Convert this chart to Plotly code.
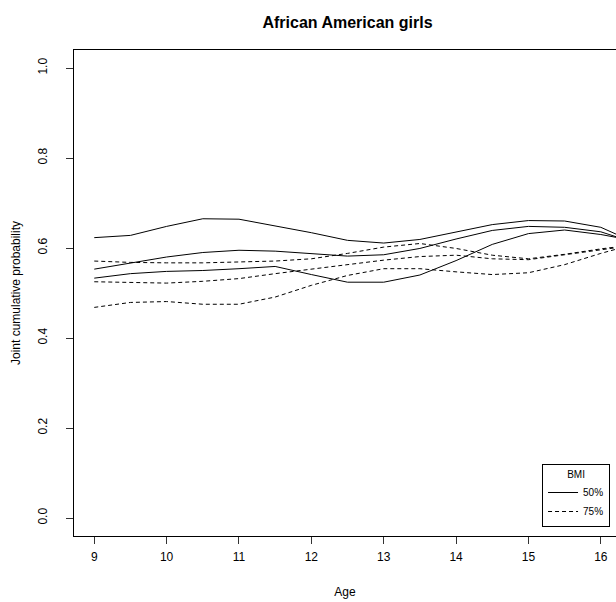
import plotly.graph_objects as go

ages = [9, 9.5, 10, 10.5, 11, 11.5, 12, 12.5, 13, 13.5, 14, 14.5, 15, 15.5, 16, 16.5]

bmi50_a = [0.623, 0.628, 0.648, 0.665, 0.664, 0.649, 0.634, 0.617, 0.611, 0.619, 0.636, 0.652, 0.661, 0.660, 0.646, 0.610]
bmi50_b = [0.553, 0.567, 0.580, 0.590, 0.595, 0.593, 0.587, 0.582, 0.585, 0.599, 0.620, 0.639, 0.648, 0.646, 0.636, 0.610]
bmi50_c = [0.533, 0.543, 0.548, 0.550, 0.554, 0.559, 0.541, 0.524, 0.524, 0.540, 0.572, 0.608, 0.632, 0.640, 0.630, 0.615]

bmi75_a = [0.571, 0.568, 0.567, 0.567, 0.569, 0.571, 0.576, 0.588, 0.602, 0.610, 0.599, 0.584, 0.576, 0.586, 0.598, 0.608]
bmi75_b = [0.525, 0.524, 0.522, 0.526, 0.532, 0.543, 0.553, 0.563, 0.573, 0.581, 0.584, 0.576, 0.574, 0.585, 0.597, 0.607]
bmi75_c = [0.468, 0.479, 0.481, 0.475, 0.475, 0.491, 0.517, 0.539, 0.554, 0.554, 0.547, 0.541, 0.545, 0.563, 0.588, 0.610]

x_ticks = [9, 10, 11, 12, 13, 14, 15, 16]
y_ticks = [0.0, 0.2, 0.4, 0.6, 0.8, 1.0]
y_tick_labels = ["0.0", "0.2", "0.4", "0.6", "0.8", "1.0"]

series = [
    ("50%", bmi50_a, "solid", True),
    ("50%", bmi50_b, "solid", False),
    ("50%", bmi50_c, "solid", False),
    ("75%", bmi75_a, "4px,3px", True),
    ("75%", bmi75_b, "4px,3px", False),
    ("75%", bmi75_c, "4px,3px", False),
]

fig = go.Figure()
for name, vals, dash, show in series:
    fig.add_trace(go.Scatter(
        x=ages, y=vals, mode="lines", name=name, legendgroup=name,
        showlegend=show, line=dict(color="black", width=1, dash=dash),
    ))

font = "Liberation Sans, Arial, Helvetica, sans-serif"
fig.update_layout(
    width=616, height=602,
    margin=dict(l=74, r=0, t=50, b=66),
    paper_bgcolor="white", plot_bgcolor="white",
    font=dict(family=font, size=12, color="black"),
    title=dict(text="<b>African American girls</b>", x=(74 + 621) / 2 / 616, xanchor="center",
               y=1 - 22 / 602, yanchor="middle", font=dict(size=16, family=font)),
    showlegend=True,
    legend=dict(
        x=0.989, y=0.0185, xanchor="right", yanchor="bottom",
        bordercolor="black", borderwidth=1, bgcolor="white",
        font=dict(size=10, family=font),
        title=dict(text="BMI", side="top center", font=dict(size=10)),
        itemwidth=30, tracegroupgap=0,
    ),
)
fig.update_xaxes(
    range=[8.72, 16.21], tickvals=x_ticks, ticktext=[str(t) for t in x_ticks],
    ticks="outside", ticklen=7, tickcolor="#333", showgrid=False, zeroline=False,
    showline=True, linecolor="black", linewidth=1, mirror=True,
    ticklabelstandoff=3,
    title=dict(text="Age", standoff=24, font=dict(size=12)),
    tickfont=dict(size=12),
)
fig.update_yaxes(
    range=[-0.04, 1.04], tickvals=y_ticks, ticktext=y_tick_labels, tickangle=-90,
    ticks="outside", ticklen=7, tickcolor="#333", showgrid=False, zeroline=False,
    showline=True, linecolor="black", linewidth=1, mirror=False,
    ticklabelstandoff=14,
    title=dict(text="Joint cumulative probability", standoff=13, font=dict(size=12)),
    tickfont=dict(size=12),
)

fig.write_html("out.html", config={"displayModeBar": False},
               post_script="document.body.style.margin='0';")
